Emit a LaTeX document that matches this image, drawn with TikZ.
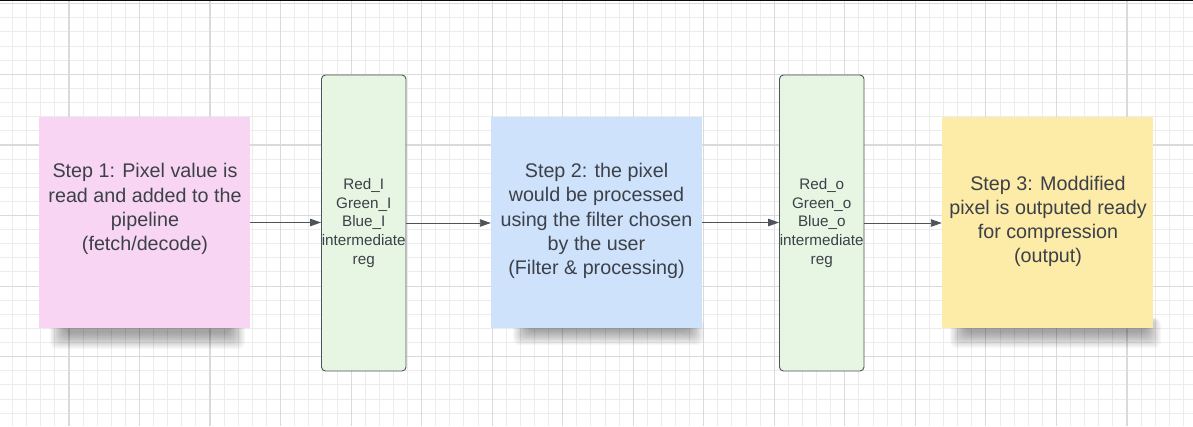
\documentclass[tikz,border=0pt]{standalone}
\usepackage{fontspec}
\setmainfont{Liberation Sans}
\usetikzlibrary{arrows.meta,calc}
\definecolor{gridminor}{RGB}{236,236,236}
\definecolor{gridmajor}{RGB}{218,218,218}
\definecolor{notepink}{RGB}{248,214,243}
\definecolor{noteblue}{RGB}{207,226,252}
\definecolor{noteyellow}{RGB}{253,235,168}
\definecolor{regfill}{RGB}{230,246,227}
\definecolor{regdraw}{RGB}{78,84,90}
\definecolor{txtcol}{RGB}{60,64,72}
\definecolor{arrcol}{RGB}{78,83,90}
\begin{document}
\begin{tikzpicture}[x=1bp,y=-1bp,
  note/.style={rectangle, draw=none, inner sep=0pt, minimum width=211bp, minimum height=211bp},
  notetext/.style={align=center, inner sep=0pt, text=txtcol, font=\fontsize{19.8}{24.3}\selectfont},
  regbox/.style={rectangle, rounded corners=4bp, draw=regdraw, line width=0.9bp, fill=regfill,
    inner sep=0pt, minimum width=84.5bp, minimum height=296bp, align=center, text=txtcol,
    font=\fontsize{15.3}{18.65}\selectfont},
  conn/.style={draw=arrcol, line width=0.9bp, -{Triangle[length=11bp,width=7.5bp]}},
  shadowlayer/.style={fill=black, opacity=0.032, rounded corners=7bp}
]
\useasboundingbox (0,0) rectangle (1193,426);
\fill[white] (0,0) rectangle (1193,426);
% grid
\foreach \k in {-5,...,80} \draw[gridminor, line width=1bp] ({69+14.106*\k},0) -- ({69+14.106*\k},426);
\foreach \k in {-5,...,26} \draw[gridminor, line width=1bp] (0,{74.3+14.12*\k}) -- (1193,{74.3+14.12*\k});
\foreach \k in {-1,...,16} \draw[gridmajor, line width=1.2bp] ({69+70.53*\k},0) -- ({69+70.53*\k},426);
\foreach \k in {-1,...,5} \draw[gridmajor, line width=1.2bp] (0,{74.3+70.6*\k}) -- (1193,{74.3+70.6*\k});
% top border line
\fill[black!92!brown] (0,0) rectangle (1193,1.4);
% shadows
\foreach \i in {0,...,12} \fill[shadowlayer] ({50+\i*1.2},318) rectangle ({245-\i*1.2},{349-\i*1.3});
\foreach \i in {0,...,12} \fill[shadowlayer] ({513+\i*1.2},318) rectangle ({704-\i*1.2},{345-\i*1.2});
\foreach \i in {0,...,12} \fill[shadowlayer] ({950+\i*1.2},318) rectangle ({1161-\i*1.2},{348-\i*1.3});
% sticky notes
\node[note, fill=notepink] (n1) at (144.5,222.5) {};
\node[note, fill=noteblue] (n2) at (596.5,222.5) {};
\node[note, fill=noteyellow] (n3) at (1047.5,222.5) {};
\node[notetext] (t1) at ($(n1.center)+(0.5,-13.5)$) {Step 1: Pixel value is\\read and added to the\\pipeline\\(fetch/decode)};
\node[notetext] (t2) at ($(n2.center)+(0,-1.5)$) {Step 2: the pixel\\would be processed\\using the filter chosen\\by the user\\(Filter \& processing)};
\node[notetext] (t3) at ($(n3.center)+(0.5,-1)$) {Step 3: Moddified\\pixel is outputed ready\\for compression\\(output)};
% registers
\node[regbox] (r1) at (363.75,223) {Red\_I\\Green\_I\\Blue\_I\\intermediate\\reg};
\node[regbox] (r2) at (821.75,223) {Red\_o\\Green\_o\\Blue\_o\\intermediate\\reg};
% connectors
\draw[conn] (n1.east) -- (n1.east -| r1.west);
\draw[conn] (r1.east) -- (r1.east -| n2.west);
\draw[conn] (n2.east) -- (n2.east -| r2.west);
\draw[conn] (r2.east) -- (r2.east -| n3.west);
\end{tikzpicture}
\end{document}
